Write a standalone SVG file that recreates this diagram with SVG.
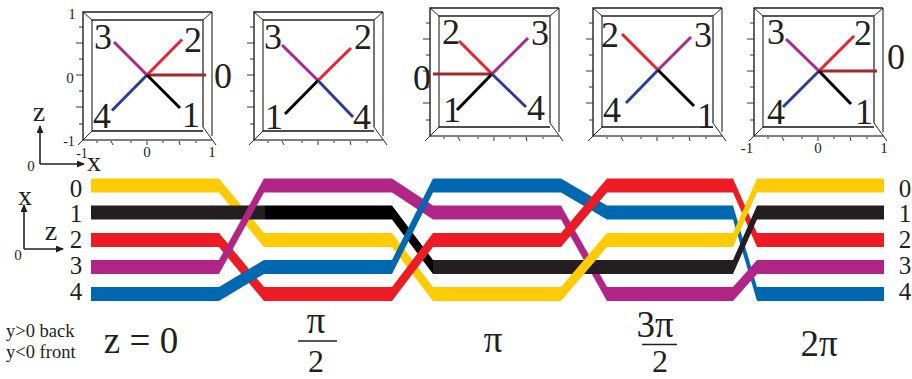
<svg xmlns="http://www.w3.org/2000/svg" width="912" height="379" viewBox="0 0 912 379">
<style>
text{font-family:"Liberation Serif","Times New Roman",serif;fill:#231f20;text-anchor:middle}
.n{font-size:36px}.s{font-size:15px}.d{font-size:14px}.m{font-size:25px}.b{font-size:37px}.f{font-size:32px}.a{font-size:28px}.t{font-size:18.500px;text-anchor:start}
.ray{fill:none;stroke-width:3}
.r0{stroke:#a6262e}.r1{stroke:#000}.r2{stroke:#ee2030}.r3{stroke:#b0268f}.r4{stroke:#2a3d97}
.y{fill:#ffcb05}.k{fill:#231f20}.k2{fill:#000}.e{fill:#ed1c24}.p{fill:#b12587}.u{fill:#0067b1}
.ax{fill:none;stroke:#231f20;stroke-width:1.6}
.bar{stroke:#231f20;stroke-width:1.3}
</style>
<defs>
<g id="frame" fill="none">
<path d="M0 128L0 0H129" stroke="#222" stroke-width="1.4"/>
<path d="M129 0V124" stroke="#444" stroke-width="1.3"/>
<path d="M0 128H129" stroke="#555" stroke-width="1.3"/>
<path d="M9 119V8" stroke="#444" stroke-width="1.3"/>
<path d="M9 8H120" stroke="#222" stroke-width="1.3"/>
<path d="M120 8V115" stroke="#666" stroke-width="1.8"/>
<path d="M9 119H120" stroke="#111" stroke-width="1.3"/>
<path d="M0 0L9 8M129 0L120 8M9 119L-5 133M120 115L133 133" stroke="#222" stroke-width="1"/>
<path d="M-7 31H0M-7 63H0M-7 95H0M-4 15H0M-4 47H0M-4 79H0M-4 112H0" stroke="#333" stroke-width="1"/>
<path d="M30 133L28 129M64 133V129M97 133L96 129M14 131V129M48 131V129M80 131V129M113 131V129" stroke="#333" stroke-width="1"/>
</g>
<marker id="ah" markerWidth="8" markerHeight="7" refX="7" refY="3.5" orient="auto" markerUnits="userSpaceOnUse"><path d="M0 0L8 3.5L0 7Z" fill="#231f20"/></marker>
</defs>
<g id="panel-1">
<use href="#frame" x="83" y="12"/>
<path class="ray r0" d="M147 75H206"/><path class="ray r3" d="M147 75L114 42"/><path class="ray r4" d="M147 75L112 110.500"/><path class="ray r2" d="M147 75L182 39.500"/><path class="ray r1" d="M147 75L180 108"/>
<text class="n" x="103" y="49">3</text><text class="n" x="193" y="52">2</text><text class="n" x="223" y="88">0</text><text class="n" x="102" y="128">4</text><text class="n" x="191" y="127">1</text>
<text class="s" x="72" y="19">1</text><text class="s" x="70" y="83">0</text><text class="d" x="69" y="146">-1</text><text class="d" x="82" y="158">-1</text><text class="s" x="147" y="157">0</text><text class="s" x="212" y="157">1</text>
</g>
<g id="panel-2">
<use href="#frame" x="254" y="12"/>
<path class="ray r3" d="M318 80.500L282 45"/><path class="ray r2" d="M318 80.500L351 48"/><path class="ray r1" d="M318 80.500L285 114"/><path class="ray r4" d="M318 80.500L353 117"/>
<text class="n" x="273" y="49">3</text><text class="n" x="363" y="49">2</text><text class="n" x="274" y="129">1</text><text class="n" x="362" y="129">4</text>
</g>
<g id="panel-3">
<use href="#frame" x="430" y="8"/>
<path class="ray r2" d="M492 74L459 41"/><path class="ray r3" d="M492 74L528 38"/><path class="ray r0" d="M492 74H433"/><path class="ray r1" d="M492 74L457 110"/><path class="ray r4" d="M492 74L526 107"/>
<text class="n" x="451" y="44">2</text><text class="n" x="540" y="45">3</text><text class="n" x="422" y="90">0</text><text class="n" x="452" y="122">1</text><text class="n" x="536" y="120">4</text>
</g>
<g id="panel-4">
<use href="#frame" x="593" y="8"/>
<path class="ray r2" d="M658 70L622 34"/><path class="ray r3" d="M658 70L691 37"/><path class="ray r4" d="M658 70L626 103"/><path class="ray r1" d="M658 70L694 106"/>
<text class="n" x="610" y="47">2</text><text class="n" x="703" y="47">3</text><text class="n" x="612" y="122">4</text><text class="n" x="706" y="128">1</text>
</g>
<g id="panel-5">
<use href="#frame" x="754" y="8"/>
<path class="ray r0" d="M819 71H877"/><path class="ray r3" d="M819 71L786 39"/><path class="ray r2" d="M819 71L854 36"/><path class="ray r4" d="M819 71L783 107"/><path class="ray r1" d="M819 71L851 104"/>
<text class="n" x="776" y="44">3</text><text class="n" x="863" y="45">2</text><text class="n" x="896" y="69">0</text><text class="n" x="776" y="124">4</text><text class="n" x="864" y="124">1</text>
<text class="s" x="747" y="153">-1</text><text class="s" x="818" y="153">0</text><text class="s" x="884" y="153">1</text>
</g>
<g id="axes-top">
<path class="ax" d="M40 164V126" marker-end="url(#ah)"/><path class="ax" d="M40 164H84" marker-end="url(#ah)"/>
<text class="a" x="39" y="121">z</text><text class="a" x="94" y="171">x</text><text class="s" x="31" y="171">0</text>
</g>
<g id="axes-bottom">
<path class="ax" d="M24 249V205" marker-end="url(#ah)"/><path class="ax" d="M24 249H63" marker-end="url(#ah)"/>
<text class="a" x="25" y="205">x</text><text class="a" x="51" y="240">z</text><text class="s" x="18" y="260">0</text>
</g>
<g id="strands">
<polygon class="y" points="91,178.500 219,178.500 264,233 392,233 433,287 500,287 500,301 433,301 392,247 264,247 219,192.500 91,192.500"/>
<polygon class="k" points="91,205.500 265,205.500 265,219.500 91,219.500"/>
<polygon class="k2" points="265,205.500 392,205.500 433,260 433,274 392,219.500 265,219.500"/>
<polygon class="k" points="433,260 500,260 500,274 433,274"/>
<polygon class="e" points="91,233 219,233 264,287 392,287 433,233 500,233 500,247 433,247 392,301 264,301 219,247 91,247"/>
<polygon class="p" points="91,260 219,260 264,178.500 392,178.500 433,205.500 500,205.500 500,219.500 433,219.500 392,192.500 264,192.500 219,274 91,274"/>
<polygon class="u" points="91,287 219,287 264,260 392,260 433,178.500 500,178.500 500,192.500 433,192.500 392,274 264,274 219,301 91,301"/>
<polygon class="u" points="500,178.500 561,178.500 607,205.500 733,205.500 757,287 884,287 884,301 757,301 733,219.500 607,219.500 561,192.500 500,192.500"/>
<polygon class="p" points="500,205.500 561,205.500 607,287 733,287 757,260 884,260 884,274 757,274 733,301 607,301 561,219.500 500,219.500"/>
<polygon class="e" points="500,233 561,233 607,178.500 733,178.500 757,233 884,233 884,247 757,247 733,192.500 607,192.500 561,247 500,247"/>
<polygon class="k" points="500,260 733,260 757,205.500 884,205.500 884,219.500 757,219.500 733,274 500,274"/>
<polygon class="y" points="500,287 561,287 607,233 733,233 757,178.500 884,178.500 884,192.500 757,192.500 733,247 607,247 561,301 500,301"/>
</g>
<g id="strand-labels">
<text class="m" x="76" y="197">0</text><text class="m" x="76" y="222">1</text><text class="m" x="76" y="248">2</text><text class="m" x="76" y="274">3</text><text class="m" x="76" y="300">4</text>
<text class="m" x="905" y="197">0</text><text class="m" x="905" y="222">1</text><text class="m" x="905" y="248">2</text><text class="m" x="905" y="274">3</text><text class="m" x="905" y="300">4</text>
</g>
<g id="captions">
<text class="t" x="6" y="337">y&gt;0 back</text><text class="t" x="6" y="358">y&lt;0 front</text>
<text class="b" x="141" y="353">z = 0</text>
<text class="b" x="316" y="333">π</text><path class="bar" d="M298 341H337"/><text class="f" x="316" y="372">2</text>
<text class="b" x="493" y="352">π</text>
<text class="b" x="655" y="337">3π</text><path class="bar" d="M642 344.500H677"/><text class="f" x="660" y="372">2</text>
<text class="b" x="819" y="356">2π</text>
</g>
</svg>
